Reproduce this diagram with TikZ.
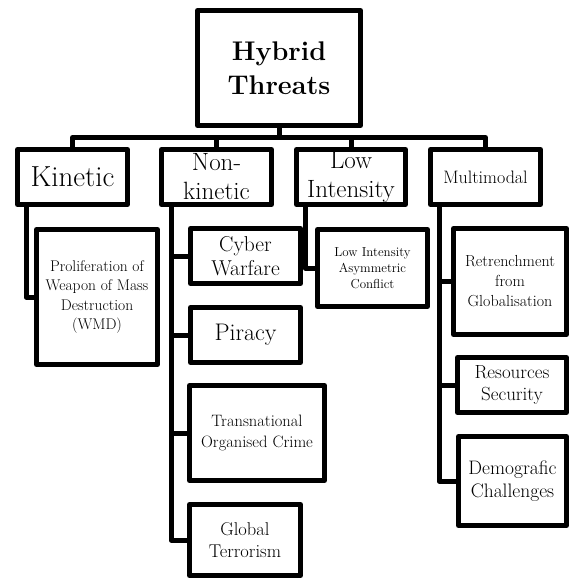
\documentclass[tikz,border=0pt]{standalone}
\begin{document}
\begin{tikzpicture}[x=1pt,y=-1pt,
  box/.style={draw, line width=5pt, inner sep=0pt, align=center, line join=round, fill=white},
  sz/.style 2 args={minimum width=#1pt, minimum height=#2pt},
  fs/.style 2 args={font=\fontsize{#1}{#2}\selectfont},
  conn/.style={line width=5pt, line join=round}]
\useasboundingbox (0,0) rectangle (569,579);
% top
\node[box, sz={163}{115}, font=\bfseries\fontsize{27}{34}\selectfont] (hy) at (279,68) {Hybrid\\Threats};
% level 1
\node[box, sz={110}{55}, fs={29}{34}] (kin) at (72.5,177) {Kinetic};
\node[box, sz={110}{55}, fs={25}{29}] (non) at (216.5,177) {Non-\\kinetic};
\node[box, sz={109}{55}, fs={25}{29}] (low) at (351,177) {Low\\Intensity};
\node[box, sz={110}{55}, fs={18}{22}] (mul) at (485.5,177) {Multimodal};
\coordinate (bus) at (279,137.5);
\draw[conn] (hy.south) -- (bus);
\draw[conn] (kin.north) |- (bus);
\draw[conn] (non.north) |- (bus);
\draw[conn] (low.north) |- (bus);
\draw[conn] (mul.north) |- (bus);
% kinetic child
\node[box, sz={121}{135}, fs={15.5}{19.5}] (wmd) at (97,297) {Proliferation of\\Weapon of Mass\\Destruction\\(WMD)};
\draw[conn] ([xshift=11pt]kin.south west) |- (wmd.west);
% non-kinetic children
\node[box, sz={110}{55}, fs={21.5}{24.5}] (cyb) at (245.5,256) {Cyber\\Warfare};
\node[box, sz={110}{55}, fs={24}{28}] (pir) at (245.5,335) {Piracy};
\node[box, sz={135}{95}, fs={16.5}{21}] (tra) at (257,433) {Transnational\\Organised Crime};
\node[box, sz={111}{71}, fs={18.5}{22}] (glo) at (245,540) {Global\\Terrorism};
\draw[conn] ([xshift=12pt]non.south west) |- (cyb.west);
\draw[conn] ([xshift=12pt]non.south west) |- (pir.west);
\draw[conn] ([xshift=12pt]non.south west) |- (tra.west);
\draw[conn] ([xshift=12pt]non.south west) |- (glo.west);
% low intensity child
\node[box, sz={110}{77}, fs={13}{16}] (lac) at (372.5,268) {Low Intensity\\Asymmetric\\Conflict};
\draw[conn] ([xshift=11pt]low.south west) |- (lac.west);
% multimodal children
\node[box, sz={113}{106}, fs={16}{20}] (ret) at (510,281.5) {Retrenchment\\from\\Globalisation};
\node[box, sz={109}{55}, fs={19}{22}] (res) at (512,385) {Resources\\Security};
\node[box, sz={108}{89}, fs={19.5}{22.5}] (dem) at (512.5,481) {Demografic\\Challenges};
\draw[conn] ([xshift=11pt]mul.south west) |- (ret.west);
\draw[conn] ([xshift=11pt]mul.south west) |- (res.west);
\draw[conn] ([xshift=11pt]mul.south west) |- (dem.west);
\end{tikzpicture}
\end{document}
